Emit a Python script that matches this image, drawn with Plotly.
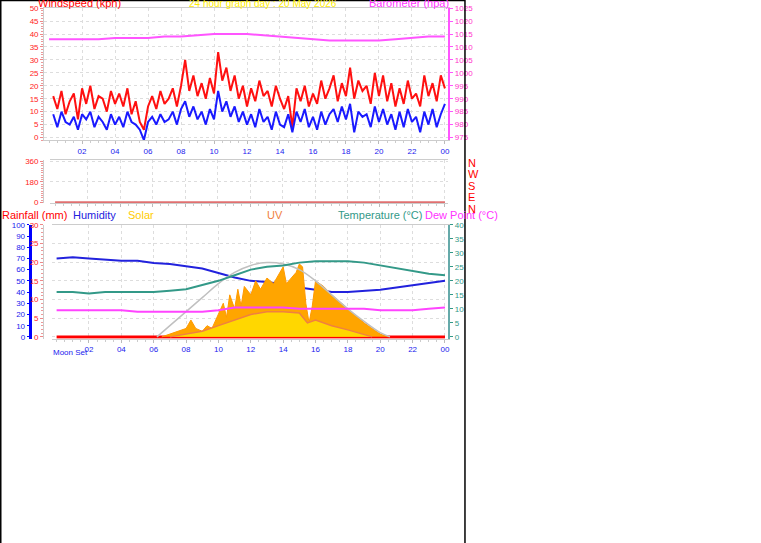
import plotly.graph_objects as go

# wind, 15 minute samples (kph)
wind_hours = [i / 4 + 0.25 for i in range(96)]
gust = [16, 11, 18, 9, 14, 17, 7, 19, 13, 20, 11, 16, 15, 10, 18, 13, 17, 12, 19, 9, 14, 6, 3, 12,
        16, 11, 18, 13, 15, 19, 12, 20, 30, 18, 24, 16, 21, 15, 23, 17, 33, 22, 27, 18, 24, 15, 20, 12,
        19, 14, 22, 16, 18, 12, 20, 15, 11, 16, 4, 19, 14, 20, 12, 17, 13, 22, 15, 19, 24, 14, 21, 16,
        27, 15, 22, 18, 20, 13, 25, 16, 24, 14, 21, 12, 19, 13, 22, 15, 17, 12, 24, 16, 21, 14, 24, 19]
avg = [9, 4, 10, 6, 5, 8, 3, 9, 7, 10, 4, 8, 6, 3, 9, 5, 8, 4, 10, 6, 5, 3, -1, 6,
       8, 5, 9, 6, 7, 10, 5, 11, 14, 8, 12, 7, 10, 5, 11, 7, 18, 10, 14, 8, 12, 6, 10, 5,
       9, 4, 11, 6, 8, 3, 10, 5, 4, 9, 2, 10, 6, 11, 4, 8, 3, 10, 5, 9, 11, 6, 12, 7,
       13, 2, 10, 8, 9, 4, 12, 6, 11, 5, 9, 3, 10, 4, 11, 6, 8, 2, 10, 5, 11, 4, 9, 13]

# hourly values
hours = list(range(25))
baro = [1013, 1013, 1013, 1013, 1013.5, 1013.5, 1013.5, 1014, 1014, 1014.5, 1015, 1015, 1015,
        1014.5, 1014, 1013.5, 1013, 1012.5, 1012.5, 1012.5, 1012.5, 1013, 1013.5, 1014, 1014]
wind_dir = [3, 3, 2, 4, 3, 5, 4, 3, 6, 4, 5, 3, 4, 6, 3, 5, 4, 3, 2, 4, 3, 5, 3, 4, 3]
humidity = [70, 71, 70, 69, 68, 68, 66, 65, 63, 61, 57, 53, 50, 49, 47, 44, 42, 40, 40, 41, 42, 44, 46, 48, 50]
temp = [16, 16, 15.5, 16, 16, 16, 16, 16.5, 17, 18.5, 20, 22, 24, 25, 25.5, 26.5, 27, 27, 27, 26.5, 25.5, 24.5, 23.5, 22.5, 22]
dew = [9.5, 9.5, 9.5, 9.5, 9.5, 9, 9, 9, 9, 9, 9.5, 10.5, 10.5, 10.5, 10.5, 10, 10, 10, 10, 10, 9.5, 9.5, 9.5, 10, 10.5]
rain = [0] * 25

# solar (drawn on the temperature scale)
sun_hours = [6.2, 7, 8, 9, 10, 11, 12, 13, 14, 15, 16, 17, 18, 19, 20, 20.6]
sun_max = [0, 4, 9, 14, 19, 23, 25.5, 26.5, 26, 24, 20, 15, 10, 5.5, 1.5, 0]
solar_hours = [6.5, 7, 7.5, 8, 8.3, 8.6, 9, 9.3, 9.6, 10, 10.3, 10.5, 10.7, 11, 11.2, 11.4, 11.6, 12, 12.3, 12.6,
               13, 13.4, 13.8, 14, 14.2, 14.5, 14.8, 15, 15.2, 15.4, 15.6, 15.8, 16, 16.5, 17, 18, 19, 20, 20.5]
solar = [0, 1, 2, 3, 6, 3, 2, 4, 3, 8, 12, 7, 15, 10, 17, 11, 18, 15, 20, 17,
         21, 19, 23, 25, 19, 21, 23, 26, 25, 12, 5, 11, 20, 18, 15, 10, 5, 1, 0]
uv_hours = [7, 8, 9, 10, 11, 12, 13, 14, 15, 15.5, 16, 17, 18, 19, 19.5]
uv = [0, 1, 2, 4, 6, 8, 9, 9, 8.5, 5, 6, 4, 2.5, 1, 0]

tick_vals = [2, 4, 6, 8, 10, 12, 14, 16, 18, 20, 22, 24]
tick_text = ["02", "04", "06", "08", "10", "12", "14", "16", "18", "20", "22", "00"]

fig = go.Figure()
fig.add_trace(go.Scatter(x=wind_hours, y=gust, mode="lines", line=dict(color="#ff1010", width=2), xaxis="x", yaxis="y"))
fig.add_trace(go.Scatter(x=wind_hours, y=avg, mode="lines", line=dict(color="#1a1aff", width=2), xaxis="x", yaxis="y"))
fig.add_trace(go.Scatter(x=hours, y=baro, mode="lines", line=dict(color="#ff55ff", width=2), xaxis="x", yaxis="y2"))
fig.add_trace(go.Scatter(x=hours, y=wind_dir, mode="lines", line=dict(color="#e07070", width=2), xaxis="x2", yaxis="y3"))

fig.add_trace(go.Scatter(x=solar_hours, y=solar, mode="lines", fill="tozeroy", fillcolor="#ffa500",
                         line=dict(color="#ff9900", width=1), xaxis="x3", yaxis="y6"))
fig.add_trace(go.Scatter(x=uv_hours, y=uv, mode="lines", fill="tozeroy", fillcolor="#ffd700",
                         line=dict(color="#f08040", width=1.5), xaxis="x3", yaxis="y6"))
fig.add_trace(go.Scatter(x=sun_hours, y=sun_max, mode="lines", line=dict(color="#c0c0c0", width=1.5), line_shape="spline", xaxis="x3", yaxis="y6"))
fig.add_trace(go.Scatter(x=hours, y=humidity, mode="lines", line=dict(color="#2222dd", width=2), xaxis="x3", yaxis="y5"))
fig.add_trace(go.Scatter(x=hours, y=temp, mode="lines", line=dict(color="#339988", width=2), xaxis="x3", yaxis="y6"))
fig.add_trace(go.Scatter(x=hours, y=dew, mode="lines", line=dict(color="#ff44ff", width=2), xaxis="x3", yaxis="y6"))
fig.add_trace(go.Scatter(x=hours, y=rain, mode="lines", line=dict(color="#ff0000", width=3), xaxis="x3", yaxis="y4"))

tf = dict(family="Liberation Sans", size=8)
ax = dict(range=[-0.3, 24.2], tickvals=tick_vals, ticktext=tick_text, tickfont=dict(tf, color="#2222ee"),
          showgrid=True, gridcolor="#dddddd", griddash="dot", showline=True, linecolor="#cccccc", mirror=True,
          zeroline=False, ticks="outside", ticklen=3, tickcolor="#bbbbbb", automargin=False,
          minor=dict(dtick=0.5, ticks="outside", ticklen=2, tickcolor="#cccccc"))
yax = dict(showgrid=True, gridcolor="#dddddd", griddash="dot", zeroline=False, showline=True, linecolor="#cccccc",
           ticks="outside", ticklen=3, tickcolor="#ee8888", automargin=False, tickfont=dict(tf, color="#ff2222"),
           minor=dict(ticks="outside", ticklen=2, tickcolor="#ee9999"))

fig.update_layout(
    width=761, height=543, margin=dict(l=0, r=0, t=0, b=0, autoexpand=False),
    paper_bgcolor="white", plot_bgcolor="white", showlegend=False,
    font=dict(family="Liberation Sans", size=10),
    xaxis=dict(ax, domain=[0.058, 0.589], anchor="y"),
    yaxis=dict(yax, domain=[0.742, 0.985], range=[-1, 50], dtick=5),
    yaxis2=dict(overlaying="y", side="right", anchor="x", range=[974, 1025], dtick=5, showgrid=False, zeroline=False,
                showline=True, linecolor="#ff55ff", linewidth=2, ticks="outside", ticklen=3, tickcolor="#ff55ff",
                automargin=False, tickfont=dict(tf, color="#ff33cc")),
    xaxis2=dict(ax, domain=[0.066, 0.589], anchor="y3", showticklabels=False),
    yaxis3=dict(yax, domain=[0.626, 0.705], range=[-5, 370], tickvals=[0, 180, 360]),
    xaxis3=dict(ax, domain=[0.068, 0.589], anchor="y4"),
    yaxis4=dict(yax, domain=[0.376, 0.586], range=[-0.5, 30], dtick=5),
    yaxis5=dict(overlaying="y4", side="left", anchor="free", position=0.039, range=[-1.7, 100], dtick=10,
                showgrid=False, zeroline=False, showline=True, linecolor="#0000ff", linewidth=3,
                ticks="outside", ticklen=2, tickcolor="#0000ff", automargin=False, tickfont=dict(tf, color="#2222ee")),
    yaxis6=dict(overlaying="y4", side="right", anchor="x3", range=[-0.7, 40], dtick=5, showgrid=False, zeroline=False,
                showline=True, linecolor="#66aaaa", linewidth=2, ticks="outside", ticklen=3, tickcolor="#339988",
                automargin=False, tickfont=dict(tf, color="#339988")),
)

def label(text, x, y, color, size=11, anchor="left"):
    fig.add_annotation(text=text, x=x, y=y, xref="paper", yref="paper", showarrow=False,
                       xanchor=anchor, yanchor="middle", font=dict(color=color, size=size))

label("Windspeed (kph)", 0.047, 0.994, "#ff0000")
label("24 hour graph day : 20 May 2026", 0.345, 0.994, "#ffee00", 10, "center")
label("Barometer (hpa)", 0.592, 0.994, "#ff33ff", 11, "right")
label("Rainfall (mm)", 0.0, 0.604, "#ff0000")
label("Humidity", 0.093, 0.604, "#2222dd")
label("Solar", 0.166, 0.604, "#ffcc00")
label("UV", 0.348, 0.604, "#f08040")
label("Temperature (°C)", 0.442, 0.604, "#339988")
label("Dew Point (°C)", 0.556, 0.604, "#ff33ff")
label("Moon Set", 0.067, 0.351, "#2222ee", 8)
for i, d in enumerate(["N", "W", "S", "E", "N"]):
    label(d, 0.613, 0.70 - i * 0.021, "#ff0000")

fig.add_shape(type="line", xref="paper", yref="paper", x0=0.611, x1=0.611, y0=0, y1=1, line=dict(color="black", width=1.5))
fig.add_shape(type="line", xref="paper", yref="paper", x0=0.001, x1=0.001, y0=0, y1=1, line=dict(color="black", width=1.5))
fig.add_shape(type="line", xref="paper", yref="paper", x0=0, x1=0.611, y0=0.999, y1=0.999, line=dict(color="black", width=1.5))

fig.write_html("out.html", config={"displayModeBar": False}, post_script="document.body.style.margin='0';")
